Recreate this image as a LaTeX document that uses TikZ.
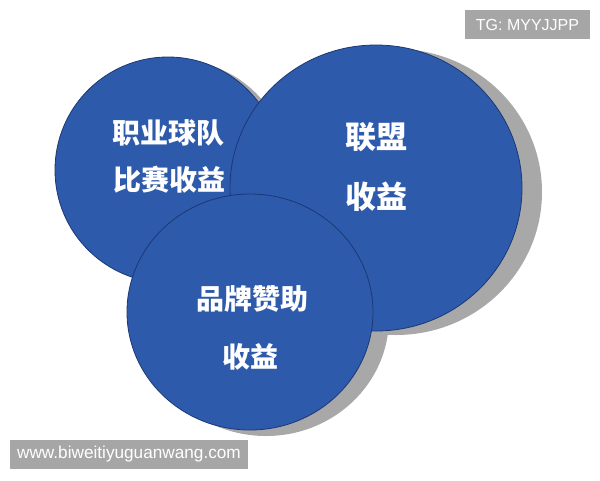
\documentclass[tikz,border=0pt]{standalone}
\usepackage{fontspec}
\setmainfont{Liberation Sans}
\newfontfamily\cjk{Noto Sans CJK SC}
\usetikzlibrary{shapes.geometric}
\definecolor{discblue}{RGB}{46,90,172}
\definecolor{discedge}{RGB}{28,56,115}
\definecolor{shade}{RGB}{168,168,168}
\definecolor{markgray}{RGB}{166,166,166}
\begin{document}
\begin{tikzpicture}[x=1pt,y=-1pt,
  disc/.style={ellipse, draw=discedge, line width=0.8pt, fill=discblue, inner sep=0pt},
  discshadow/.style={ellipse, fill=shade, inner sep=0pt},
  lblsmall/.style={text=white, font=\cjk\bfseries\fontsize{28}{34}\selectfont, inner sep=0pt},
  lblbig/.style={text=white, font=\cjk\bfseries\fontsize{31}{37}\selectfont, inner sep=0pt},
  wmbox/.style={fill=markgray, text=white, inner sep=0pt}
]
\useasboundingbox (0,0) rectangle (600,480);
\fill[white] (0,0) rectangle (600,480);
% shadows
\node[discshadow, minimum width=226pt, minimum height=226pt] (tlS) at (176,173) {};
\node[discshadow, minimum width=292pt, minimum height=286pt] (rtS) at (396,192) {};
\node[discshadow, minimum width=246pt, minimum height=236pt] (btS) at (266,318) {};
% discs
\node[disc, minimum width=226pt, minimum height=226pt] (tl) at (168,170) {};
\node[disc, minimum width=292pt, minimum height=286pt] (rt) at (376,188) {};
\node[disc, minimum width=246pt, minimum height=236pt] (bt) at (250,312) {};
% labels
\node[lblsmall] (t1a) at (168,133) {职业球队};
\node[lblsmall] (t1b) at (169,180) {比赛收益};
\node[lblbig] (t2a) at (376,137) {联盟};
\node[lblbig] (t2b) at (376,197) {收益};
\node[lblsmall] (t3a) at (252,299) {品牌赞助};
\node[lblsmall] (t3b) at (250,357) {收益};
% watermarks
\node[wmbox, font=\fontsize{16}{18}\selectfont, minimum width=125pt, minimum height=29pt] (tg) at (527.5,24.5) {TG: MYYJJPP};
\node[wmbox, font=\fontsize{17.2}{20}\selectfont, minimum width=238pt, minimum height=29pt] (url) at (129,454.5) {www.biweitiyuguanwang.com};
\end{tikzpicture}
\end{document}
